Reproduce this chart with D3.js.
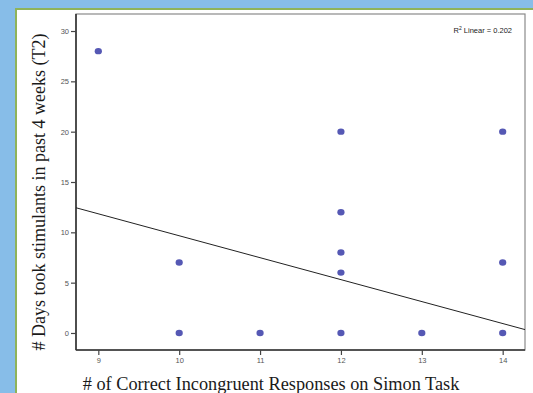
<!DOCTYPE html>
<html>
<head>
<meta charset="utf-8">
<script src="https://cdn.jsdelivr.net/npm/d3@7"></script>
<style>
  body { margin: 0; background: #87bde8; }
  svg { display: block; }
</style>
</head>
<body>
<div id="chart"></div>
<script>
// values
const correctResponses = [9, 10, 10, 11, 12, 12, 12, 12, 12, 13, 14, 14, 14];
const daysStimulants   = [28, 7, 0, 0, 20, 12, 8, 6, 0, 0, 20, 7, 0];
const xTicks = [9, 10, 11, 12, 13, 14];
const yTicks = [0, 5, 10, 15, 20, 25, 30];
const fitIntercept = 31.46;
const fitSlope = -2.18;
const r2Label = "0.202";

const width = 533, height = 393;
const margin = { top: 14, right: 8, bottom: 43, left: 76 };
const plotW = width - margin.left - margin.right;
const plotH = height - margin.top - margin.bottom;

const svg = d3.select("#chart")
  .append("svg")
  .attr("width", width)
  .attr("height", height);

// white panel with green edge
svg.append("rect")
  .attr("x", 16).attr("y", 9)
  .attr("width", width).attr("height", height)
  .attr("fill", "#fff")
  .attr("stroke", "#8fb35a")
  .attr("stroke-width", 2);

const g = svg.append("g")
  .attr("transform", "translate(" + margin.left + "," + margin.top + ")");

const x = d3.scaleLinear().domain([8.724, 14.276]).range([0, plotW]);
const y = d3.scaleLinear().domain([-1.69, 31.69]).range([plotH, 0]);

// frame
g.append("rect")
  .attr("width", plotW).attr("height", plotH)
  .attr("fill", "none")
  .attr("stroke", "#8a8a8a")
  .attr("stroke-width", 1.2);

const xAxis = g.append("g")
  .attr("transform", "translate(0," + plotH + ")")
  .call(d3.axisBottom(x).tickValues(xTicks).tickFormat(d3.format("d"))
    .tickSize(5).tickSizeOuter(0).tickPadding(3));
const yAxis = g.append("g")
  .call(d3.axisLeft(y).tickValues(yTicks).tickFormat(d3.format("d"))
    .tickSize(5).tickSizeOuter(0).tickPadding(2));

[xAxis, yAxis].forEach(a => {
  a.select(".domain").attr("stroke", "#333").attr("stroke-width", 1.6);
  a.selectAll(".tick line").attr("stroke", "#444").attr("stroke-width", 1.2);
  a.selectAll(".tick text")
    .attr("fill", "#555")
    .style("font-family", "Liberation Sans, Arial, sans-serif")
    .style("font-size", "7.5px");
});
// the x domain runs the full width, redraw so the axis line spans it
xAxis.select(".domain").attr("d", "M0,0H" + plotW);
yAxis.select(".domain").attr("d", "M0,0V" + plotH);

// fit line
const fitX = x.domain();
g.append("path")
  .datum(fitX)
  .attr("d", d3.line()
    .x(d => x(d))
    .y(d => y(fitIntercept + fitSlope * d)))
  .attr("fill", "none")
  .attr("stroke", "#222")
  .attr("stroke-width", 1);

// points
g.selectAll(".dot")
  .data(correctResponses.map((v, i) => ({ x: v, y: daysStimulants[i] })))
  .enter()
  .append("ellipse")
  .attr("class", "dot")
  .attr("cx", d => x(d.x))
  .attr("cy", d => y(d.y))
  .attr("rx", 3.6)
  .attr("ry", 3.2)
  .attr("fill", "#5558b4");

// R² label
const r2 = g.append("text")
  .attr("x", plotW - 13)
  .attr("y", 19)
  .attr("text-anchor", "end")
  .style("font-family", "Liberation Sans, Arial, sans-serif")
  .style("font-size", "7.5px")
  .attr("fill", "#222");
r2.append("tspan").text("R");
r2.append("tspan").attr("dy", -3).style("font-size", "5px").text("2");
r2.append("tspan").attr("dy", 3).text(" Linear = " + r2Label);

// axis titles
svg.append("text")
  .attr("transform", "translate(45," + 192 + ") rotate(-90)")
  .attr("text-anchor", "middle")
  .style("font-family", "Liberation Serif, Times New Roman, serif")
  .style("font-size", "18px")
  .attr("fill", "#1a1a1a")
  .text("# Days took stimulants in past 4 weeks (T2)");

svg.append("text")
  .attr("x", 271)
  .attr("y", 390)
  .attr("text-anchor", "middle")
  .style("font-family", "Liberation Serif, Times New Roman, serif")
  .style("font-size", "18.3px")
  .attr("fill", "#1a1a1a")
  .text("# of Correct Incongruent Responses on Simon Task");
</script>
</body>
</html>
